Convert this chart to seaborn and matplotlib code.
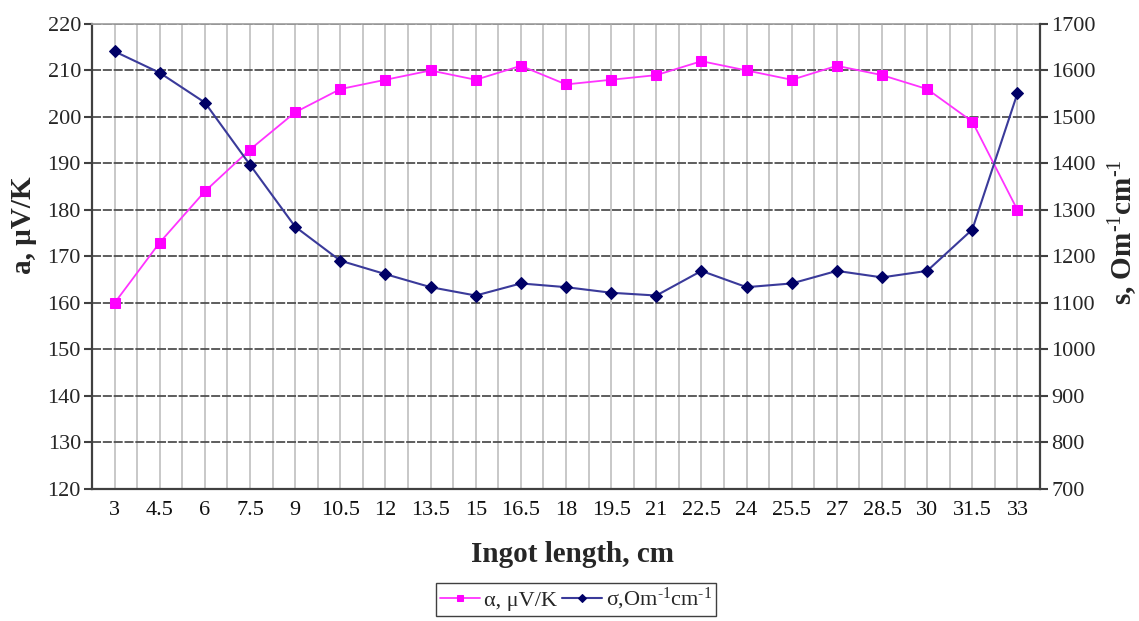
import seaborn as sns
import numpy as np
import matplotlib.pyplot as plt

# ingot length categories (cm)
lengths = ["3", "4.5", "6", "7.5", "9", "10.5", "12", "13.5", "15", "16.5", "18",
           "19.5", "21", "22.5", "24", "25.5", "27", "28.5", "30", "31.5", "33"]
# thermo-EMF, uV/K (left axis)
alpha = [160, 173, 184, 193, 201, 206, 208, 210, 208, 211, 207,
         208, 209, 212, 210, 208, 211, 209, 206, 199, 180]
# conductivity, Om^-1 cm^-1 (right axis)
sigma = [1641, 1595, 1531, 1397, 1264, 1191, 1162, 1134, 1116, 1142, 1134,
         1122, 1116, 1169, 1134, 1142, 1169, 1155, 1169, 1258, 1551]

sns.set_theme(style="white")
plt.rcParams['font.family'] = ['Liberation Serif', 'DejaVu Serif']
plt.rcParams['mathtext.fontset'] = 'custom'
plt.rcParams['mathtext.rm'] = 'Liberation Serif'
plt.rcParams['mathtext.it'] = 'Liberation Serif:italic'
plt.rcParams['mathtext.bf'] = 'Liberation Serif:bold'

fig = plt.figure(figsize=(11.39, 6.21), dpi=100)
ax = fig.add_axes([0.0808, 0.2126, 0.8323, 0.7488])
ax2 = ax.twinx()

pos = np.arange(len(lengths))

sns.lineplot(x=pos, y=alpha, ax=ax, color='#ff33ff', linewidth=1.3,
             marker='s', markersize=7, markerfacecolor='#ff00ff',
             markeredgecolor='#ff00ff', label=r'α, μV/K', legend=False)
sns.lineplot(x=pos, y=sigma, ax=ax2, color='#3a3a9a', linewidth=1.5,
             marker='D', markersize=6.5, markerfacecolor='#000066',
             markeredgecolor='#000066',
             label=r'σ,Om$^{\text{-}1}$cm$^{\text{-}1}$', legend=False)

# x axis: categories with ticks between them
ax.set_xlim(-0.5, len(lengths) - 0.5)
ax.set_xticks(pos)
ax.set_xticklabels(lengths)
ax.set_xticks(np.arange(-0.5, len(lengths), 1), minor=True)
ax.tick_params(axis='x', which='major', length=0, pad=9, labelsize=16, colors='#111111')
ax.tick_params(axis='x', which='minor', direction='inout', length=9, width=1.5, color='#404040')

ax.set_ylim(120, 220)
ax.set_yticks(np.arange(120, 221, 10))
ax.tick_params(axis='y', direction='out', length=6, width=1.5, color='#404040',
               labelsize=16, pad=2, left=True)
ax2.set_ylim(700, 1700)
ax2.set_yticks(np.arange(700, 1701, 100))
ax2.tick_params(axis='y', direction='out', length=6, width=1.5, color='#404040',
                labelsize=16, pad=2, right=True)

ax.grid(axis='x', which='both', color='#c8c8c8', linewidth=1.4)
ax.grid(axis='y', which='major', color='#505050', linewidth=1.3, linestyle=(0, (5, 1)))
ax.set_axisbelow(True)

for s in ['left', 'bottom']:
    ax.spines[s].set_color('#404040')
    ax.spines[s].set_linewidth(1.6)
ax.spines['top'].set_color('#a0a0a0')
ax.spines['right'].set_visible(False)
for s in ['left', 'bottom', 'top']:
    ax2.spines[s].set_visible(False)
ax2.spines['right'].set_color('#404040')
ax2.spines['right'].set_linewidth(1.6)

ax.set_xlabel('Ingot length, cm', fontsize=21, fontweight='bold')
ax.set_ylabel('a, μV/K', fontsize=21, fontweight='bold')
ax2.set_ylabel(r's, Om$^{\text{-}1}$cm$^{\text{-}1}$', fontsize=21, fontweight='bold')
ax.xaxis.set_label_coords(0.507, -0.112)
ax.yaxis.set_label_coords(-0.058, 0.568)
ax2.yaxis.set_label_coords(1.070, 0.553)

handles = [ax.lines[0], ax2.lines[0]]
fig.legend(handles, [h.get_label() for h in handles], loc='upper center',
           bbox_to_anchor=(576 / 1139, 1 - 583 / 621), ncol=2, fontsize=16,
           frameon=True, fancybox=False, edgecolor='#404040', framealpha=1,
           handlelength=1.8, handletextpad=0.2, columnspacing=0.2,
           borderpad=0.15, borderaxespad=0, markerscale=0.6)

fig.savefig('out.png', dpi=100)
